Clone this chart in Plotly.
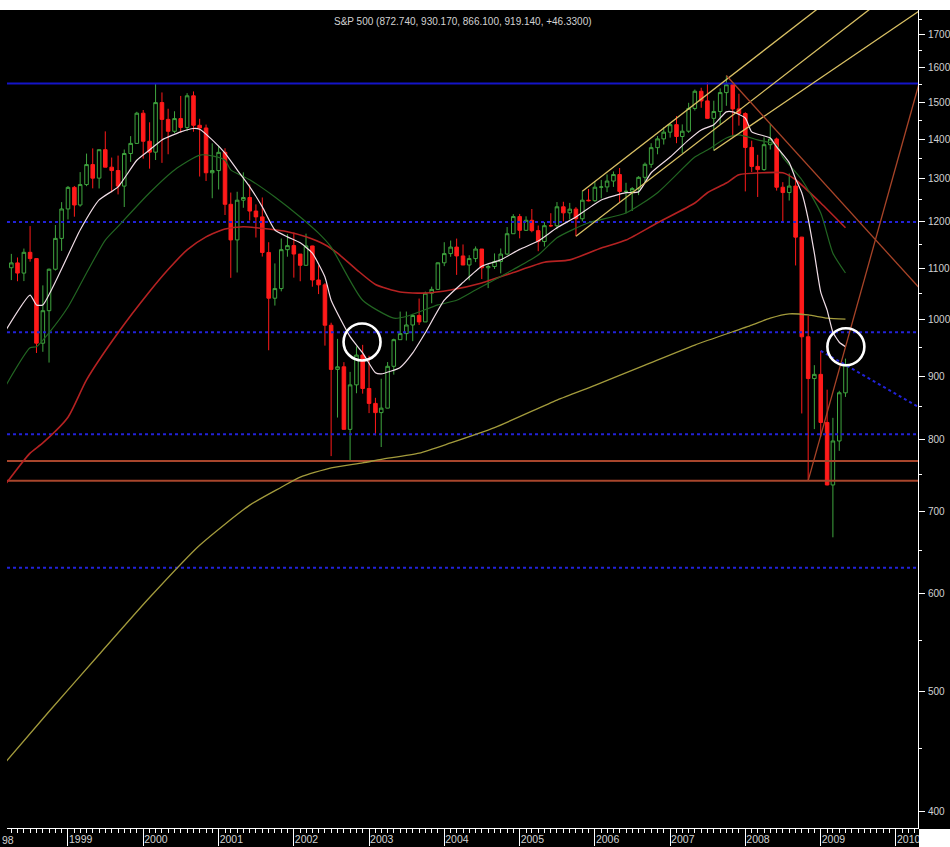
import pandas as pd
import plotly.graph_objects as go

# ---------------- data (monthly S&P 500 candles, Apr 1998 - May 2009) ----------------
first_month = "1998-04-01"
opens = [1101.75, 1111.75, 1090.82, 1133.84, 1120.67, 957.28, 1017.01, 1098.67, 1163.63,
         1229.23, 1279.64, 1238.33, 1286.37, 1335.18, 1301.84, 1372.71, 1328.72, 1320.41, 1282.71, 1362.93, 1388.91,
         1469.25, 1394.46, 1366.42, 1498.58, 1452.43, 1420.60, 1454.60, 1430.83, 1517.68, 1436.51, 1429.40, 1314.95,
         1320.28, 1366.01, 1239.94, 1160.33, 1249.46, 1255.82, 1224.42, 1211.23, 1133.58, 1040.94, 1059.78, 1139.45,
         1148.08, 1130.20, 1106.73, 1147.39, 1076.92, 1067.14, 989.82, 911.62, 916.07, 815.28, 885.76, 936.31,
         879.82, 855.70, 841.15, 848.18, 916.92, 963.59, 974.50, 990.31, 1008.01, 995.97, 1050.71, 1058.20,
         1111.92, 1131.13, 1144.94, 1126.21, 1107.30, 1120.68, 1140.84, 1101.72, 1104.24, 1114.58, 1130.20, 1173.82,
         1211.92, 1181.27, 1203.60, 1180.59, 1156.85, 1191.50, 1191.33, 1234.18, 1220.33, 1228.81, 1207.01, 1249.48,
         1248.29, 1280.08, 1280.66, 1294.83, 1310.61, 1270.09, 1270.20, 1276.66, 1303.82, 1335.85, 1377.94, 1400.63,
         1418.30, 1438.24, 1406.82, 1420.86, 1482.37, 1530.62, 1503.35, 1455.27, 1473.99, 1526.75, 1549.38, 1481.14,
         1468.36, 1378.55, 1330.63, 1322.70, 1385.59, 1400.38, 1280.00, 1267.38, 1282.83, 1166.36, 968.75, 896.24,
         903.25, 825.88, 735.09, 797.87, 872.74]
highs = [1130.52, 1123.03, 1141.83, 1190.58, 1121.00, 1066.11, 1100.00, 1192.97, 1244.93,
         1283.00, 1283.00, 1316.55, 1362.80, 1375.98, 1372.93, 1420.33, 1352.78, 1357.74, 1373.17, 1407.89, 1473.10,
         1478.00, 1444.55, 1552.87, 1527.19, 1481.51, 1474.64, 1517.32, 1525.21, 1530.09, 1454.00, 1438.46, 1389.06,
         1383.37, 1376.38, 1267.42, 1269.30, 1315.93, 1286.62, 1239.78, 1255.81, 1155.40, 1110.61, 1163.38, 1173.00,
         1176.55, 1130.20, 1173.94, 1147.84, 1106.59, 1070.74, 994.46, 965.00, 924.02, 907.44, 951.57, 954.28,
         935.05, 864.64, 895.90, 924.24, 965.38, 1015.33, 1015.41, 1011.01, 1040.29, 1053.79, 1063.65, 1112.56,
         1155.38, 1158.98, 1163.23, 1150.57, 1127.74, 1146.34, 1140.84, 1108.60, 1131.54, 1142.05, 1188.46, 1217.33,
         1217.90, 1212.44, 1229.11, 1191.88, 1199.56, 1219.59, 1245.15, 1245.86, 1243.13, 1233.34, 1270.64, 1275.80,
         1294.90, 1297.57, 1310.88, 1318.16, 1326.70, 1290.68, 1280.42, 1306.74, 1340.28, 1389.45, 1407.89, 1431.81,
         1441.61, 1461.57, 1438.89, 1498.02, 1535.56, 1540.56, 1555.90, 1503.89, 1538.74, 1576.09, 1554.41, 1523.57,
         1471.77, 1396.02, 1359.68, 1404.57, 1440.24, 1404.05, 1292.17, 1313.15, 1303.04, 1167.03, 1007.51, 918.85,
         943.85, 877.86, 832.98, 876.00, 930.17]
lows = [1076.70, 1074.39, 1074.67, 1114.30, 939.98, 942.00, 923.32, 1096.00, 1136.89,
        1205.46, 1211.65, 1234.56, 1282.56, 1277.31, 1277.00, 1328.72, 1268.00, 1263.00, 1233.70, 1341.89, 1387.38,
        1350.14, 1325.07, 1346.62, 1339.40, 1361.09, 1416.00, 1417.49, 1421.00, 1419.44, 1305.79, 1294.90, 1254.07,
        1274.62, 1215.44, 1081.19, 1091.99, 1232.00, 1203.03, 1165.54, 1124.87, 944.75, 1026.76, 1054.31, 1124.61,
        1081.66, 1074.36, 1106.73, 1063.46, 1048.96, 952.92, 775.68, 833.44, 815.28, 768.63, 872.05, 871.40,
        840.34, 806.29, 788.90, 847.85, 902.83, 963.59, 962.10, 960.84, 990.36, 995.97, 1031.20, 1058.20,
        1105.08, 1124.44, 1087.16, 1107.23, 1076.32, 1113.32, 1078.78, 1060.72, 1099.18, 1090.19, 1127.60, 1173.82,
        1163.75, 1180.10, 1176.92, 1136.22, 1146.18, 1188.30, 1183.55, 1201.07, 1205.35, 1168.20, 1201.07, 1246.59,
        1245.74, 1253.61, 1268.42, 1280.74, 1245.34, 1219.29, 1224.54, 1261.30, 1290.93, 1327.10, 1360.98, 1385.93,
        1403.97, 1389.42, 1363.98, 1416.37, 1476.70, 1484.18, 1454.25, 1370.60, 1439.29, 1489.64, 1406.10, 1435.65,
        1270.05, 1316.75, 1256.98, 1320.00, 1373.07, 1272.00, 1200.44, 1248.64, 1106.42, 839.80, 741.02, 815.69,
        804.30, 734.52, 666.79, 783.32, 866.10]
closes = [1111.75, 1090.82, 1133.84, 1120.67, 957.28, 1017.01, 1098.67, 1163.63, 1229.23,
          1279.64, 1238.33, 1286.37, 1335.18, 1301.84, 1372.71, 1328.72, 1320.41, 1282.71, 1362.93, 1388.91, 1469.25,
          1394.46, 1366.42, 1498.58, 1452.43, 1420.60, 1454.60, 1430.83, 1517.68, 1436.51, 1429.40, 1314.95, 1320.28,
          1366.01, 1239.94, 1160.33, 1249.46, 1255.82, 1224.42, 1211.23, 1133.58, 1040.94, 1059.78, 1139.45, 1148.08,
          1130.20, 1106.73, 1147.39, 1076.92, 1067.14, 989.82, 911.62, 916.07, 815.28, 885.76, 936.31, 879.82,
          855.70, 841.15, 848.18, 916.92, 963.59, 974.50, 990.31, 1008.01, 995.97, 1050.71, 1058.20, 1111.92,
          1131.13, 1144.94, 1126.21, 1107.30, 1120.68, 1140.84, 1101.72, 1104.24, 1114.58, 1130.20, 1173.82, 1211.92,
          1181.27, 1203.60, 1180.59, 1156.85, 1191.50, 1191.33, 1234.18, 1220.33, 1228.81, 1207.01, 1249.48, 1248.29,
          1280.08, 1280.66, 1294.83, 1310.61, 1270.09, 1270.20, 1276.66, 1303.82, 1335.85, 1377.94, 1400.63, 1418.30,
          1438.24, 1406.82, 1420.86, 1482.37, 1530.62, 1503.35, 1455.27, 1473.99, 1526.75, 1549.38, 1481.14, 1468.36,
          1378.55, 1330.63, 1322.70, 1385.59, 1400.38, 1280.00, 1267.38, 1282.83, 1166.36, 968.75, 896.24, 903.25,
          825.88, 735.09, 797.87, 872.81, 919.14]
months = pd.date_range(first_month, periods=len(closes), freq="MS")

# moving averages (date, value)
ma_white_dates = ["1998-03-01", "1998-07-01", "1998-08-01", "1998-09-01", "1999-03-01", "1999-06-01", "1999-09-01",
                  "1999-12-01", "2000-02-01", "2000-04-01", "2000-07-01", "2000-09-01", "2000-10-01", "2000-12-01",
                  "2001-02-01", "2001-04-01", "2001-06-01", "2001-08-01", "2001-10-01", "2001-12-01", "2002-02-01",
                  "2002-04-01", "2002-06-01", "2002-07-01", "2002-10-01", "2002-12-01", "2003-02-01", "2003-03-01",
                  "2003-06-01", "2003-08-01", "2003-10-01", "2004-01-01", "2004-04-01", "2004-07-01", "2004-10-01",
                  "2005-01-01", "2005-04-01", "2005-07-01", "2005-10-01", "2006-02-01", "2006-06-01", "2006-08-01",
                  "2006-10-01", "2007-01-01", "2007-04-01", "2007-06-01", "2007-08-01", "2007-10-01", "2007-11-01",
                  "2008-01-01", "2008-02-01", "2008-05-01", "2008-06-01", "2008-08-01", "2008-09-01", "2008-10-01",
                  "2008-11-01", "2008-12-01", "2009-01-01", "2009-02-01", "2009-03-01", "2009-04-01", "2009-05-01"]
ma_white = [978, 1047, 1028, 1028, 1182, 1250, 1281, 1346, 1372, 1398, 1419, 1428, 1426, 1398,
            1364, 1322, 1281, 1234, 1182, 1167, 1154, 1132, 1083, 1037, 969, 940, 906, 904,
            915, 940, 976, 1037, 1072, 1105, 1118, 1140, 1158, 1187, 1211, 1250, 1267, 1269,
            1315, 1354, 1398, 1424, 1438, 1473, 1473, 1456, 1419, 1403, 1380, 1340, 1300, 1267,
            1207, 1132, 1053, 1018, 977, 959, 951]

ma_green_dates = ["1998-03-01", "1998-07-01", "1998-08-01", "1998-10-01", "1999-01-01", "1999-04-01", "1999-07-01",
                  "1999-09-01", "2000-02-01", "2000-06-01", "2000-10-01", "2000-12-01", "2001-02-01", "2001-03-01",
                  "2001-06-01", "2001-10-01", "2002-02-01", "2002-05-01", "2002-07-01", "2002-12-01", "2003-05-01",
                  "2003-07-01", "2003-12-01", "2004-03-01", "2004-06-01", "2004-12-01", "2005-04-01", "2005-07-01",
                  "2005-12-01", "2006-06-01", "2006-11-01", "2007-05-01", "2007-07-01", "2007-10-01", "2007-12-01",
                  "2008-03-01", "2008-06-01", "2008-07-01", "2008-10-01", "2009-01-01", "2009-03-01", "2009-05-01"]
ma_green = [882, 949, 951, 976, 1024, 1091, 1160, 1190, 1267, 1322, 1359, 1357, 1346, 1322,
            1298, 1257, 1211, 1175, 1145, 1037, 1003, 1006, 1028, 1037, 1057, 1098, 1128, 1165,
            1198, 1220, 1267, 1354, 1372, 1403, 1411, 1398, 1385, 1354, 1298, 1220, 1132, 1091]

ma_red_dates = ["1998-03-01", "1998-07-01", "1998-09-01", "1999-01-01", "1999-04-01", "1999-09-01", "2000-02-01",
                "2000-05-01", "2000-08-01", "2000-11-01", "2001-02-01", "2001-05-01", "2001-09-01", "2001-12-01",
                "2002-03-01", "2002-06-01", "2002-08-01", "2002-11-01", "2003-02-01", "2003-06-01", "2003-10-01",
                "2004-02-01", "2004-07-01", "2004-12-01", "2005-05-01", "2005-09-01", "2006-02-01", "2006-06-01",
                "2006-11-01", "2007-05-01", "2007-07-01", "2007-10-01", "2007-12-01", "2008-04-01", "2008-07-01",
                "2008-09-01", "2009-01-01", "2009-05-01"]
ma_red = [735, 780, 795, 834, 894, 976, 1054, 1098, 1139, 1167, 1184, 1189, 1184, 1178,
          1167, 1150, 1132, 1098, 1068, 1053, 1051, 1057, 1071, 1092, 1113, 1118, 1143, 1160,
          1198, 1243, 1267, 1290, 1310, 1315, 1315, 1298, 1243, 1187]

ma_long_dates = ["1998-03-01", "1998-10-01", "1999-06-01", "2000-02-01", "2000-10-01", "2001-06-01", "2001-11-01",
                 "2002-02-01", "2002-07-01", "2002-12-01", "2003-03-01", "2003-09-01", "2004-02-01", "2004-09-01",
                 "2005-07-01", "2006-01-01", "2006-09-01", "2007-05-01", "2008-02-01", "2008-05-01", "2008-08-01",
                 "2008-11-01", "2009-02-01", "2009-05-01"]
ma_long = [438, 482, 536, 596, 657, 708, 732, 746, 759, 766, 771, 780, 795, 818,
           861, 885, 919, 954, 990, 1003, 1011, 1009, 1003, 1001]

# horizontal levels
level_solid_blue = [1552.87]
levels_dotted_blue = [1200, 977, 808, 630]
levels_brown = [768.63, 741.02]

# trend lines (start/end points)
trend_yellow = [
    (["2005-11-01", "2010-05-01"], [1270.64, 2071]),
    (["2005-10-01", "2010-05-01"], [1168.20, 1919]),
    (["2007-08-01", "2010-05-01"], [1370.60, 1781]),
]
trend_brown = [
    (["2007-10-01", "2010-05-01"], [1576.09, 1058]),
    (["2008-11-01", "2010-05-01"], [741.02, 1570]),
]
trend_dotted_blue = (["2009-01-01", "2010-05-01"], [943.85, 848])

circle_dates = ["2002-11-28", "2009-05-03"]
circle_values = [959.5, 951]

x_range = ["1998-03-11", "2010-04-18"]
y_range_log = [2.5888, 3.2506]
year_ticks = [f"{y}-01-01" for y in range(1999, 2011)]
year_labels = [str(y) for y in range(1999, 2011)]
price_ticks = list(range(400, 1800, 100))
price_minor = list(range(450, 1800, 100))

# ---------------- style ----------------
FONT = "Liberation Sans, Arial, sans-serif"
LABEL = "#d2d2d2"
GREEN = "#3fa53f"
RED = "#ff1a1a"

fig = go.Figure()

for lv in level_solid_blue:
    fig.add_trace(go.Scatter(x=x_range, y=[lv, lv], mode="lines",
                             line=dict(color="#1414c8", width=2), hoverinfo="skip"))
for lv in levels_dotted_blue:
    fig.add_trace(go.Scatter(x=x_range, y=[lv, lv], mode="lines",
                             line=dict(color="#2222d8", width=2, dash="dot"), hoverinfo="skip"))
for lv in levels_brown:
    fig.add_trace(go.Scatter(x=x_range, y=[lv, lv], mode="lines",
                             line=dict(color="#a8462c", width=2), hoverinfo="skip"))

fig.add_trace(go.Scatter(x=ma_long_dates, y=ma_long, mode="lines",
                         line=dict(color="#a39b3c", width=1.3, shape="spline", smoothing=0.6), hoverinfo="skip"))
fig.add_trace(go.Scatter(x=ma_red_dates, y=ma_red, mode="lines",
                         line=dict(color="#b52222", width=1.6, shape="spline", smoothing=0.6), hoverinfo="skip"))
fig.add_trace(go.Scatter(x=ma_green_dates, y=ma_green, mode="lines",
                         line=dict(color="#226622", width=1.2, shape="spline", smoothing=0.6), hoverinfo="skip"))
fig.add_trace(go.Scatter(x=ma_white_dates, y=ma_white, mode="lines",
                         line=dict(color="#f0dde6", width=1.2, shape="spline", smoothing=0.5), hoverinfo="skip"))

fig.add_trace(go.Candlestick(
    x=months, open=opens, high=highs, low=lows, close=closes,
    increasing=dict(line=dict(color=GREEN, width=1), fillcolor="black"),
    decreasing=dict(line=dict(color=RED, width=1), fillcolor=RED),
    whiskerwidth=0, hoverinfo="skip"))

for xs, ys in trend_yellow:
    fig.add_trace(go.Scatter(x=xs, y=ys, mode="lines", line=dict(color="#d9c064", width=1.3), hoverinfo="skip"))
for xs, ys in trend_brown:
    fig.add_trace(go.Scatter(x=xs, y=ys, mode="lines", line=dict(color="#a84428", width=1.3), hoverinfo="skip"))
fig.add_trace(go.Scatter(x=trend_dotted_blue[0], y=trend_dotted_blue[1], mode="lines",
                         line=dict(color="#2222d8", width=2, dash="dot"), hoverinfo="skip"))

fig.add_trace(go.Scatter(x=circle_dates, y=circle_values, mode="markers",
                         marker=dict(symbol="circle-open", size=37, color="white", line=dict(width=2.6, color="white")),
                         hoverinfo="skip"))

title_text = "S&P 500 ({:.3f}, {:.3f}, {:.3f}, {:.3f}, {:+.4f})".format(
    opens[-1], highs[-1], lows[-1], closes[-1], closes[-1] - closes[-2])

W, H = 950, 847
ML, MR, MT, MB = 7, 32, 10, 19
PW, PH = W - ML - MR, H - MT - MB

fig.update_layout(
    width=W, height=H,
    margin=dict(l=ML, r=MR, t=MT, b=MB, pad=0, autoexpand=False),
    paper_bgcolor="black", plot_bgcolor="black",
    showlegend=False, boxgap=0.12,
    xaxis=dict(type="date", range=x_range, showgrid=False, zeroline=False, automargin=False,
               showline=True, linecolor="white", linewidth=1,
               ticks="outside", ticklen=17, tickwidth=1, tickcolor="white",
               tickvals=year_ticks, ticktext=year_labels,
               ticklabelposition="outside right", ticklabelstandoff=1,
               tickfont=dict(family=FONT, size=10.5, color=LABEL),
               minor=dict(ticks="outside", ticklen=4, tickwidth=1, tickcolor="white",
                          dtick="M1", tick0="1998-01-01", showgrid=False),
               rangeslider=dict(visible=False), fixedrange=True),
    yaxis=dict(type="log", side="right", range=y_range_log, showgrid=False, zeroline=False, automargin=False,
               showline=True, linecolor="white", linewidth=1,
               ticks="outside", ticklen=6, tickwidth=1, tickcolor="white",
               tickvals=price_ticks, ticktext=[str(v) for v in price_ticks],
               ticklabelstandoff=1,
               tickfont=dict(family=FONT, size=10, color=LABEL),
               minor=dict(tickvals=price_minor, ticks="outside", ticklen=3, tickwidth=1,
                          tickcolor="white", showgrid=False),
               fixedrange=True),
    annotations=[
        dict(text=title_text, xref="paper", yref="paper", x=0.5, y=1 - 12 / PH,
             xanchor="center", yanchor="middle", showarrow=False,
             font=dict(family=FONT, size=10, color=LABEL)),
        dict(text="98", xref="paper", yref="paper", x=-7 / PW, y=-12 / PH,
             xanchor="left", yanchor="middle", showarrow=False,
             font=dict(family=FONT, size=10.5, color=LABEL)),
    ],
    shapes=[
        dict(type="rect", xref="paper", yref="paper", x0=-ML / PW - 0.01, x1=1 + MR / PW + 0.01,
             y0=1, y1=1 + MT / PH + 0.01, fillcolor="white", line=dict(width=0), layer="above"),
        dict(type="rect", xref="paper", yref="paper", x0=1 + 1 / PW, x1=1 + MR / PW + 0.01,
             y0=-MB / PH - 0.01, y1=-1 / PH, fillcolor="white", line=dict(width=0), layer="above"),
    ],
)

fig.write_html("out.html", config={"displayModeBar": False},
               post_script="document.body.style.margin='0';document.body.style.overflow='hidden';")
